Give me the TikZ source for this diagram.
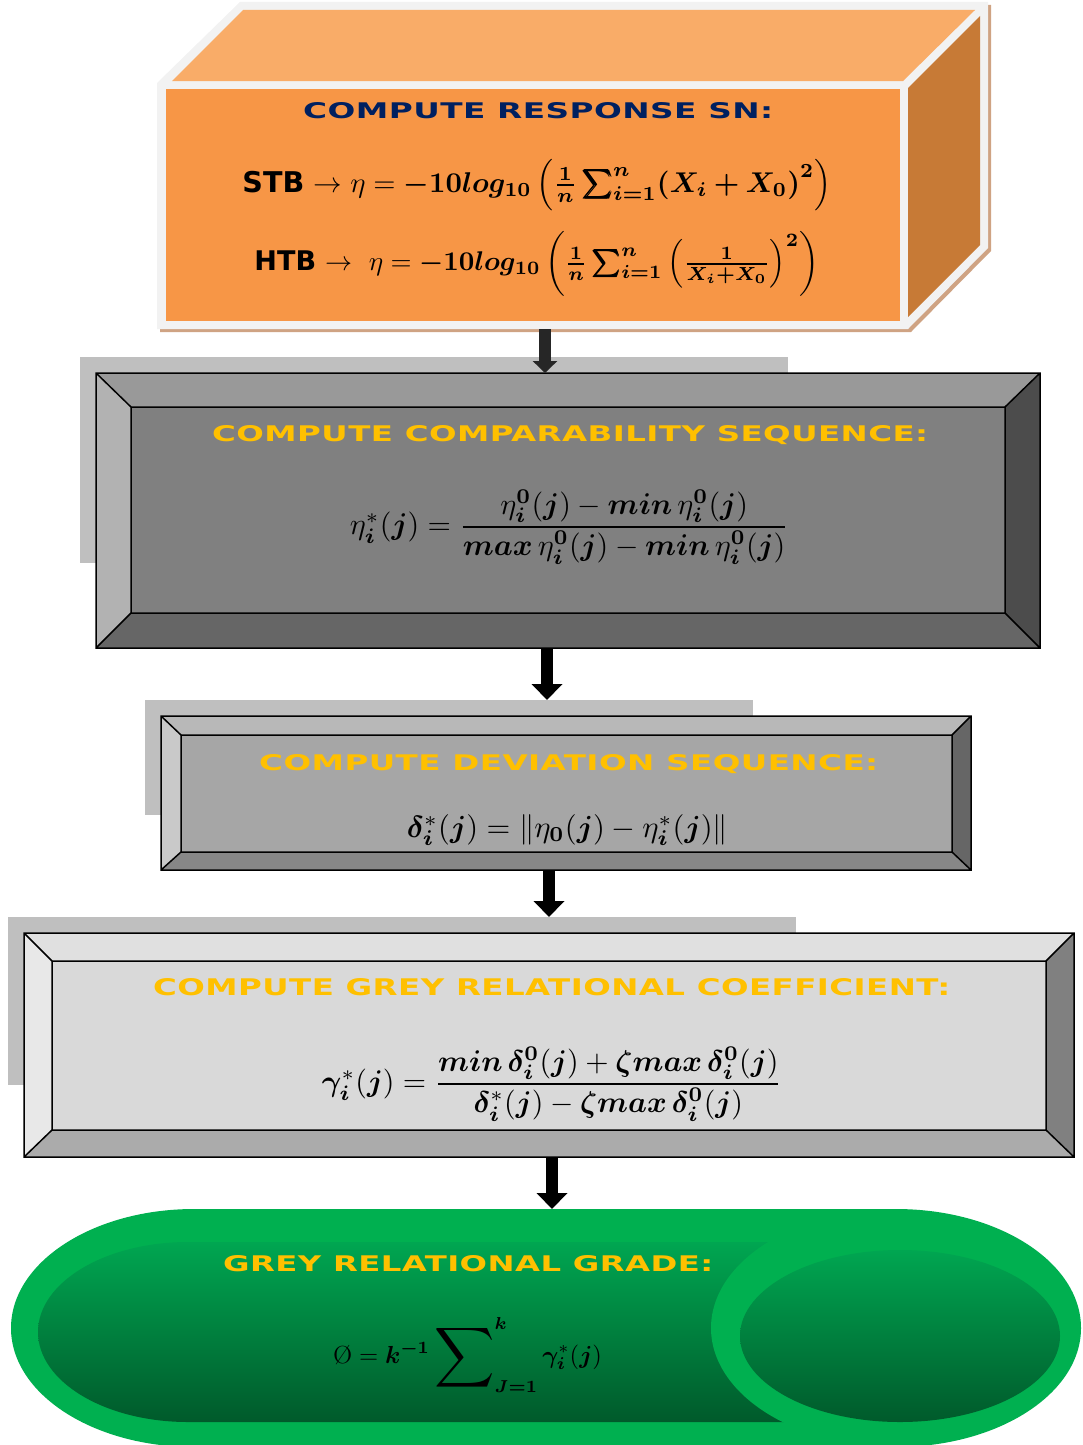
\documentclass[tikz,border=0pt]{standalone}
\usepackage{amsmath,bm}
\usepackage{graphicx}
\usepackage{fontspec}
\usetikzlibrary{arrows.meta}
\newfontfamily\titlefont[FakeStretch=1.45,LetterSpace=2]{DejaVu Sans}
\newfontfamily\heavyfont{DejaVu Sans}
\definecolor{navy}{HTML}{002060}
\definecolor{amber}{HTML}{FFC000}
\definecolor{rim}{HTML}{F2F2F2}
\definecolor{rimshade}{HTML}{CFA383}
\definecolor{frontorange}{HTML}{F79646}
\definecolor{toporange}{HTML}{F9AC68}
\definecolor{sideorange}{HTML}{C77A36}
\definecolor{dropgrey}{HTML}{BFBFBF}
\definecolor{leafgreen}{HTML}{00B050}
\definecolor{midgreen}{HTML}{00A651}
\definecolor{deepgreen}{HTML}{005A2B}

\begin{document}
\begin{tikzpicture}[x=1pt,y=-1pt,
    flow/.style={-{Triangle[width=30pt,length=16pt]}, line width=12pt},
    bevel/.style={draw=black, line width=1.5pt, line join=miter},
    frame/.style={inner sep=0pt, outer sep=0pt},
    drop/.style={frame, fill=dropgrey},
    head/.style={inner sep=0pt, anchor=base west, font=\titlefont\bfseries},
    eqn/.style={inner sep=0pt}]

    \useasboundingbox (0,0) rectangle (1082,1445);
    \clip (0,0) rectangle (1082,1445);

    % frames of the five steps
    \node [frame, minimum width=751pt, minimum height=246pt] (resp) at (532.5,206) {};
    \node [frame, minimum width=944pt, minimum height=275pt] (cmp) at (568,510.5) {};
    \node [frame, minimum width=810pt, minimum height=154pt] (dev) at (566,793) {};
    \node [frame, minimum width=1050pt, minimum height=224pt] (grc) at (549,1045) {};
    \node [frame, minimum width=1068pt, minimum height=238pt] (grade) at (545,1328) {};

    % response box
    \fill [rimshade] (160,86) -- (243,5) -- (991,5) -- (991,251) -- (911,332) -- (160,332) -- cycle;
    \fill [rim] (157,83) -- (240,2) -- (988,2) -- (988,248) -- (908,329) -- (157,329) -- cycle;
    \fill [toporange] (172,81) -- (243,10) -- (975,10) -- (903,81) -- cycle;
    \fill [sideorange] (908,88) -- (980,16) -- (980,245) -- (908,317) -- cycle;
    \fill [frontorange] (166,89) rectangle (900,321);
    \node [head, text=navy] at (303,118) {\resizebox{470pt}{16pt}{COMPUTE RESPONSE SN:}};
    \node [eqn] (stb) at (537,185) {\resizebox{589pt}{!}{{\heavyfont\bfseries STB} $\rightarrow \eta = \bm{-10log_{10}}\left(\bm{\frac{1}{n}\sum_{i=1}^{n}}\bm{(X_i+X_0)^2}\right)$}};
    \node [eqn] (htb) at (537,264) {\resizebox{565pt}{!}{{\heavyfont\bfseries HTB} $\rightarrow\ \eta = \bm{-10log_{10}}\left(\bm{\frac{1}{n}\sum_{i=1}^{n}}\left(\bm{\frac{1}{X_i+X_0}}\right)^{\bm{2}}\right)$}};

    % comparability box
    \node [drop, minimum width=708pt, minimum height=206pt] (cmpdrop) at (434,460) {};
    \fill [black!40] (96,373) -- (1040,373) -- (1005,407) -- (131,407) -- cycle;
    \fill [black!30] (96,373) -- (131,407) -- (131,613) -- (96,648) -- cycle;
    \fill [black!70] (1040,373) -- (1040,648) -- (1005,613) -- (1005,407) -- cycle;
    \fill [black!60] (96,648) -- (131,613) -- (1005,613) -- (1040,648) -- cycle;
    \fill [black!50] (131,407) rectangle (1005,613);
    \draw [bevel] (96,373) rectangle (1040,648) (131,407) rectangle (1005,613)
        (96,373) -- (131,407) (1040,373) -- (1005,407) (96,648) -- (131,613) (1040,648) -- (1005,613);
    \node [head, text=amber] at (212,441) {\resizebox{716pt}{16pt}{COMPUTE COMPARABILITY SEQUENCE:}};
    \node [eqn] (cmpeq) at (569.5,527) {\resizebox{439pt}{!}{$\eta_{\bm i}^{*}(\bm j) = \dfrac{\eta_{\bm i}^{\bm 0}(\bm j) - \bm{min}\,\eta_{\bm i}^{\bm 0}(\bm j)}{\bm{max}\,\eta_{\bm i}^{\bm 0}(\bm j) - \bm{min}\,\eta_{\bm i}^{\bm 0}(\bm j)}$}};

    % deviation box
    \node [drop, minimum width=608pt, minimum height=115pt] (devdrop) at (449,757.5) {};
    \fill [black!28] (161,716) -- (971,716) -- (952,735) -- (181,735) -- cycle;
    \fill [black!21] (161,716) -- (181,735) -- (181,852) -- (161,870) -- cycle;
    \fill [black!60] (971,716) -- (971,870) -- (952,852) -- (952,735) -- cycle;
    \fill [black!47] (161,870) -- (181,852) -- (952,852) -- (971,870) -- cycle;
    \fill [black!35] (181,735) rectangle (952,852);
    \draw [bevel] (161,716) rectangle (971,870) (181,735) rectangle (952,852)
        (161,716) -- (181,735) (971,716) -- (952,735) (161,870) -- (181,852) (971,870) -- (952,852);
    \node [head, text=amber] at (259,770) {\resizebox{619pt}{16pt}{COMPUTE DEVIATION SEQUENCE:}};
    \node [eqn] (deveq) at (567.5,830) {\resizebox{321pt}{!}{$\bm{\delta}_{\bm i}^{*}(\bm j) = \|\eta_{\bm 0}(\bm j) - \eta_{\bm i}^{*}(\bm j)\|$}};

    % coefficient box
    \node [drop, minimum width=788pt, minimum height=168pt] (grcdrop) at (402,1001) {};
    \fill [black!12] (24,933) -- (1074,933) -- (1046,961) -- (52,961) -- cycle;
    \fill [black!9] (24,933) -- (52,961) -- (52,1130) -- (24,1157) -- cycle;
    \fill [black!50] (1074,933) -- (1074,1157) -- (1046,1130) -- (1046,961) -- cycle;
    \fill [black!33] (24,1157) -- (52,1130) -- (1046,1130) -- (1074,1157) -- cycle;
    \fill [black!15] (52,961) rectangle (1046,1130);
    \draw [bevel] (24,933) rectangle (1074,1157) (52,961) rectangle (1046,1130)
        (24,933) -- (52,961) (1074,933) -- (1046,961) (24,1157) -- (52,1130) (1074,1157) -- (1046,1130);
    \node [head, text=amber] at (153,995) {\resizebox{797pt}{17pt}{COMPUTE GREY RELATIONAL COEFFICIENT:}};
    \node [eqn] (grceq) at (552,1084) {\resizebox{460pt}{!}{$\bm\gamma_{\bm i}^{*}(\bm j) = \dfrac{\bm{min}\,\bm\delta_{\bm i}^{\bm 0}(\bm j) + \bm{\zeta max}\,\bm\delta_{\bm i}^{\bm 0}(\bm j)}{\bm\delta_{\bm i}^{*}(\bm j) - \bm{\zeta max}\,\bm\delta_{\bm i}^{\bm 0}(\bm j)}$}};

    % grade cylinder
    \fill [leafgreen] (194,1209) -- (896,1209) -- (896,1447) -- (194,1447)
        arc [start angle=90, end angle=270, x radius=183, y radius=119] -- cycle;
    \shade [top color=midgreen, bottom color=deepgreen] (188,1242) -- (896,1242) -- (896,1422) -- (188,1422)
        arc [start angle=90, end angle=270, x radius=150, y radius=90] -- cycle;
    \fill [leafgreen] (896,1328) ellipse [x radius=185, y radius=119];
    \shade [top color=midgreen, bottom color=deepgreen] (900,1336) ellipse [x radius=160, y radius=86];
    \node [head, text=amber] at (223,1271) {\resizebox{490pt}{16pt}{GREY RELATIONAL GRADE:}};
    \node [eqn] (gradeeq) at (467.5,1355) {\resizebox{269pt}{!}{$\displaystyle \text{\O} = \bm{k}^{\bm{-1}} \mathop{\vcenter{\hbox{\scalebox{1.7}{$\displaystyle\sum$}}}}\nolimits_{\bm{J=1}}^{\bm k} \bm\gamma_{\bm i}^{*}(\bm j)$}};

    % arrows
    \draw [flow, -{Triangle[width=24pt,length=12pt]}, black!85] (resp.south -| 545,0) -- (cmp.north -| 545,0);
    \draw [flow] (cmp.south -| 547,0) -- (devdrop.north -| 547,0);
    \draw [flow] (dev.south -| 549,0) -- (grcdrop.north -| 549,0);
    \draw [flow] (grc.south -| 552,0) -- (grade.north -| 552,0);
\end{tikzpicture}
\end{document}
